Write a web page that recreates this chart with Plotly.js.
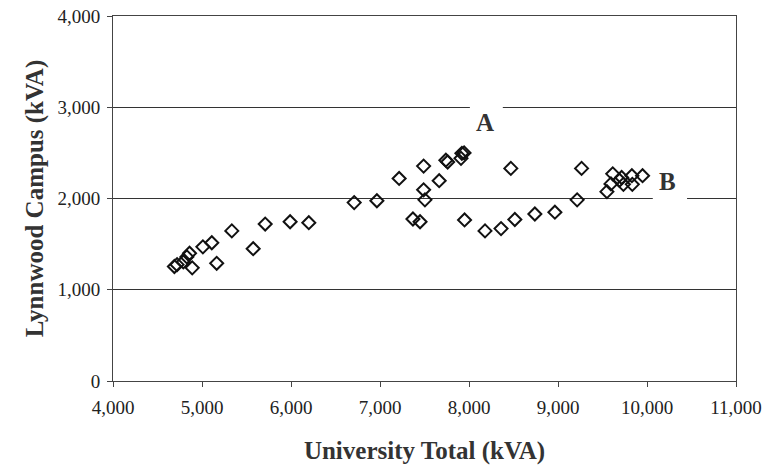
<!DOCTYPE html>
<html>
<head>
<meta charset="utf-8">
<script src="https://cdn.plot.ly/plotly-3.0.1.min.js"></script>
<style>html,body{margin:0;padding:0;background:#fff;}#chart{width:764px;height:471px;}</style>
</head>
<body>
<div id="chart"></div>
<script>
const universityTotal = [4690, 4720, 4790, 4830, 4860, 4890, 5010, 5110, 5165, 5335, 5575, 5710, 5990, 6200,
  6710, 6965, 7215, 7490, 7490, 7505, 7370, 7450, 7665, 7740, 7760, 7920, 7945, 7910, 7950,
  8470, 9265, 8180, 8360, 8515, 8740, 8965, 9215,
  9550, 9595, 9615, 9690, 9715, 9735, 9830, 9835, 9950];
const lynnwoodCampus = [1255, 1275, 1305, 1360, 1400, 1240, 1470, 1515, 1290, 1645, 1450, 1720, 1745, 1735,
  1955, 1975, 2220, 2355, 2095, 1985, 1775, 1745, 2195, 2420, 2400, 2495, 2500, 2440, 1765,
  2330, 2330, 1645, 1670, 1770, 1830, 1850, 1985,
  2075, 2160, 2270, 2200, 2230, 2155, 2250, 2155, 2250];
const xTicks = [4000, 5000, 6000, 7000, 8000, 9000, 10000, 11000];
const yTicks = [0, 1000, 2000, 3000, 4000];
const labels = [{text: 'A', x: 8180, y: 2830}, {text: 'B', x: 10235, y: 2190}];
const gaps = [{x0: 8010, x1: 8380, y: 3000}, {x0: 10065, x1: 10450, y: 2000}];

const serif = "'Liberation Serif', 'Times New Roman', Times, serif";
const trace = {
  x: universityTotal, y: lynnwoodCampus, type: 'scatter', mode: 'markers',
  marker: {symbol: 'diamond-open', size: 10, color: '#111', line: {width: 2, color: '#111'}},
  hoverinfo: 'x+y'
};
const layout = {
  width: 764, height: 471,
  margin: {l: 113, r: 28, t: 16, b: 90},
  paper_bgcolor: '#fff', plot_bgcolor: '#fff',
  showlegend: false,
  font: {family: serif, color: '#222', size: 19},
  xaxis: {
    range: [4000, 11000], tickvals: xTicks, tickformat: ',d',
    showgrid: false, zeroline: false,
    showline: true, linecolor: '#444', linewidth: 1, mirror: true,
    ticks: 'outside', ticklen: 5, tickcolor: '#444', ticklabelstandoff: 4,
    tickfont: {family: serif, size: 19, color: '#222'},
    title: {text: 'University Total (kVA)', font: {family: serif, size: 25, color: '#333', weight: 'bold'}, standoff: 24}
  },
  yaxis: {
    range: [0, 4000], tickvals: yTicks, tickformat: ',d',
    showgrid: true, gridcolor: '#333', gridwidth: 1, zeroline: false,
    showline: true, linecolor: '#444', linewidth: 1, mirror: true,
    ticks: 'outside', ticklen: 5, tickcolor: '#444', ticklabelstandoff: 3,
    tickfont: {family: serif, size: 19, color: '#222'},
    title: {text: 'Lynnwood Campus (kVA)', font: {family: serif, size: 25, color: '#333', weight: 'bold'}, standoff: 6}
  },
  shapes: gaps.map(g => ({type: 'rect', xref: 'x', yref: 'y', x0: g.x0, x1: g.x1, y0: g.y - 40, y1: g.y + 40,
    fillcolor: '#fff', line: {width: 0}, layer: 'above'})),
  annotations: labels.map(l => ({text: '<b>' + l.text + '</b>', x: l.x, y: l.y, xref: 'x', yref: 'y',
    showarrow: false, font: {family: serif, size: 25, color: '#333'}}))
};
Plotly.newPlot('chart', [trace], layout, {displayModeBar: false, staticPlot: true});
</script>
</body>
</html>
